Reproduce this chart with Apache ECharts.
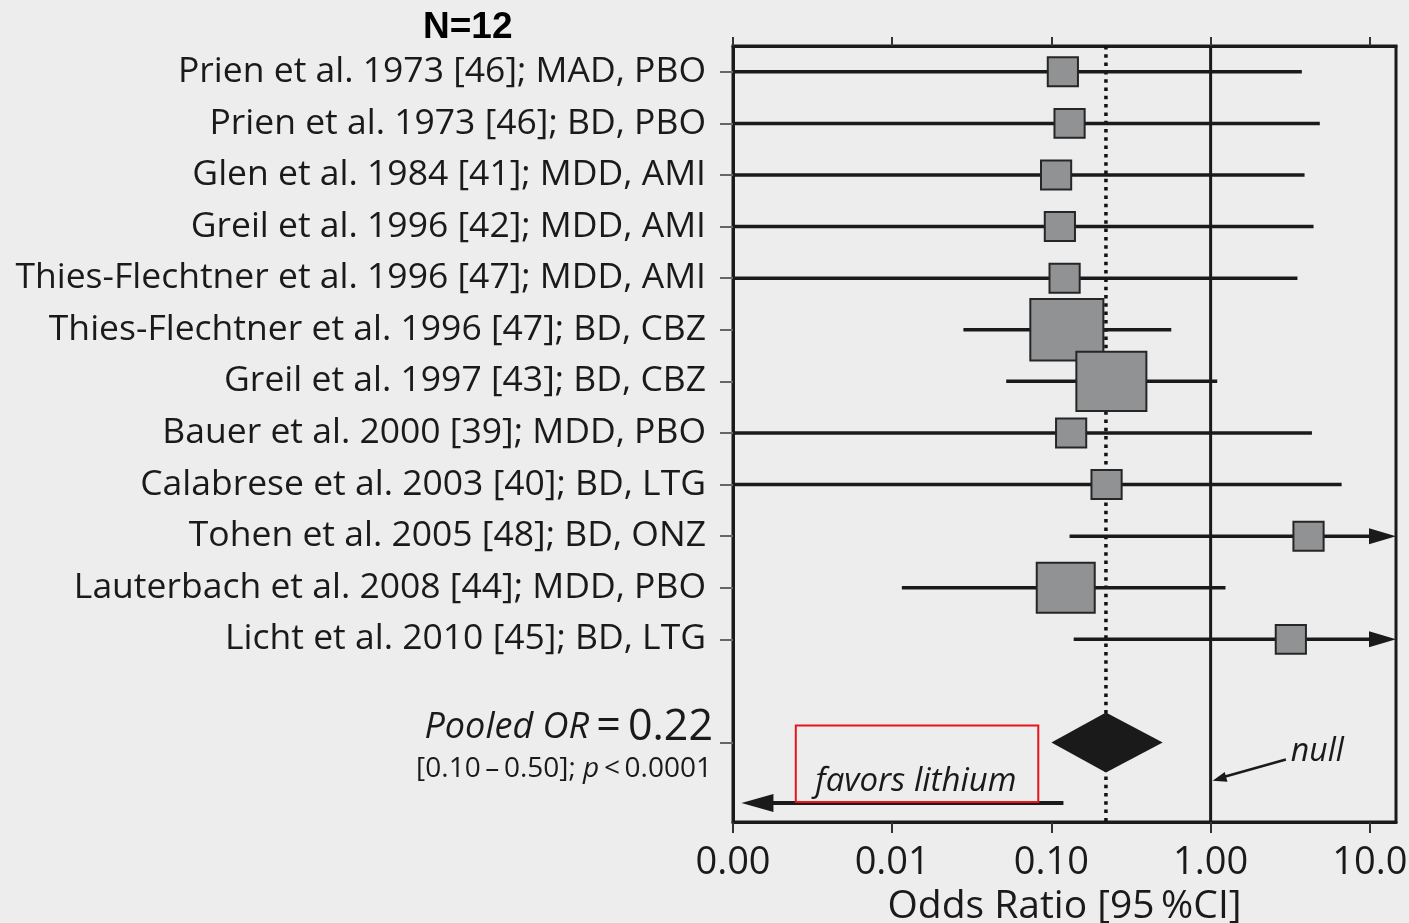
<!DOCTYPE html>
<html>
<head>
<meta charset="utf-8">
<script src="https://cdn.jsdelivr.net/npm/echarts@6/dist/echarts.min.js"></script>
<style>
  html, body { margin: 0; padding: 0; background: #ededed; }
  #chart { width: 1409px; height: 923px; }
</style>
</head>
<body>
<div id="chart"></div>
<script>
// Trials included in the meta-analysis (one row each, top to bottom)
const studies = [
  'Prien et al. 1973 [46]; MAD, PBO',
  'Prien et al. 1973 [46]; BD, PBO',
  'Glen et al. 1984 [41]; MDD, AMI',
  'Greil et al. 1996 [42]; MDD, AMI',
  'Thies-Flechtner et al. 1996 [47]; MDD, AMI',
  'Thies-Flechtner et al. 1996 [47]; BD, CBZ',
  'Greil et al. 1997 [43]; BD, CBZ',
  'Bauer et al. 2000 [39]; MDD, PBO',
  'Calabrese et al. 2003 [40]; BD, LTG',
  'Tohen et al. 2005 [48]; BD, ONZ',
  'Lauterbach et al. 2008 [44]; MDD, PBO',
  'Licht et al. 2010 [45]; BD, LTG'
];
// Odds ratios with 95% confidence limits
const oddsRatio = [0.118, 0.130, 0.107, 0.113, 0.121, 0.125, 0.238, 0.133, 0.222, 4.12, 0.123, 3.19];
const ciLower   = [0.0005, 0.0005, 0.0005, 0.0005, 0.0005, 0.028, 0.052, 0.0005, 0.0005, 0.130, 0.0115, 0.138];
const ciUpper   = [3.74, 4.85, 3.89, 4.43, 3.51, 0.566, 1.10, 4.33, 6.65, 30, 1.24, 30];
// Relative study weights (%)
const weights   = [4.2, 4.2, 4.2, 4.2, 4.2, 24.6, 22.6, 4.2, 4.2, 4.2, 15.5, 4.2];

// Pooled estimate
const pooledOR = 0.22;
const pooledLower = 0.10;
const pooledUpper = 0.50;
const pooledP = '0.0001';
const studyCount = 12;

// Axis ticks
const xTickValues = [0.001, 0.01, 0.1, 1, 10];
const xTickLabels = ['0.00', '0.01', '0.10', '1.00', '10.0'];

const FONT = "'Open Sans', 'Noto Sans', sans-serif";
const INK = '#1a1a1a';
const X_MIN = 0.001;
const X_MAX = 14.6;
const POOLED_ROW = 14;

const studyRows = studies.map((_, i) => i + 1);
const forestData = studies.map((_, i) => [oddsRatio[i], i + 1, ciLower[i], ciUpper[i], weights[i]]);

function clampX(x, cs) {
  return Math.min(Math.max(x, cs.x), cs.x + cs.width);
}

function xLabel(v) {
  for (let i = 0; i < xTickValues.length; i++) {
    if (Math.abs(Math.log10(xTickValues[i]) - Math.log10(v)) < 1e-6) return xTickLabels[i];
  }
  return '';
}

// One study: CI whisker (clipped to the frame, arrow when open-ended) and weighted box
function renderStudy(params, api) {
  const or = api.value(0), row = api.value(1), lo = api.value(2), hi = api.value(3), w = api.value(4);
  const cs = params.coordSys;
  const right = cs.x + cs.width;
  const c = api.coord([or, row]);
  const xLo = clampX(api.coord([lo, row])[0], cs);
  const rawHi = api.coord([hi, row])[0];
  const open = rawHi > right;
  const xHi = clampX(rawHi, cs);
  const bw = 14.73 * Math.sqrt(w);
  const bh = 6 + 0.76 * bw;
  const children = [{
    type: 'line',
    shape: { x1: xLo, y1: c[1], x2: open ? xHi - 20 : xHi, y2: c[1] },
    style: { stroke: INK, lineWidth: 3.5 }
  }];
  if (open) {
    children.push({
      type: 'polygon',
      shape: { points: [[xHi, c[1]], [xHi - 27, c[1] - 8], [xHi - 27, c[1] + 8]] },
      style: { fill: INK }
    });
  }
  children.push({
    type: 'rect',
    shape: { x: c[0] - bw / 2, y: c[1] - bh / 2, width: bw, height: bh },
    style: { fill: '#919293', stroke: '#262626', lineWidth: 2 }
  });
  return { type: 'group', children };
}

// Vertical reference lines: pooled estimate (dotted) and null effect (solid)
function renderRefLine(params, api) {
  const cs = params.coordSys;
  const x = api.coord([api.value(0), 1])[0];
  const dotted = api.value(1) === 1;
  return {
    type: 'line',
    shape: { x1: x, y1: cs.y, x2: x, y2: cs.y + cs.height },
    style: dotted
      ? { stroke: '#111', lineWidth: 3.5, lineDash: [3.5, 4.8] }
      : { stroke: INK, lineWidth: 3 }
  };
}

// Pooled diamond
function renderPooled(params, api) {
  const or = api.value(0), row = api.value(1), lo = api.value(2), hi = api.value(3);
  const c = api.coord([or, row]);
  const l = api.coord([lo, row])[0];
  const r = api.coord([hi, row])[0];
  const h = 30;
  return {
    type: 'polygon',
    shape: { points: [[l, c[1]], [c[0], c[1] - h], [r, c[1]], [c[0], c[1] + h]] },
    style: { fill: '#1a1a1a' }
  };
}

function arrowHead(tip, from, len, half) {
  const dx = tip[0] - from[0], dy = tip[1] - from[1];
  const d = Math.hypot(dx, dy);
  const ux = dx / d, uy = dy / d;
  const bx = tip[0] - ux * len, by = tip[1] - uy * len;
  return [tip, [bx - uy * half, by + ux * half], [bx + uy * half, by - ux * half]];
}

// Annotations: pooled summary text, "favors lithium" and "null" pointers
function renderNotes(params, api) {
  const cs = params.coordSys;
  const pooledY = api.coord([1, POOLED_ROW])[1];
  const children = [];

  children.push({
    type: 'text',
    style: {
      x: cs.x - 20, y: pooledY - 15,
      text: '{i|Pooled OR}{n|\u2009=\u2009' + pooledOR.toFixed(2) + '}',
      align: 'right', verticalAlign: 'middle',
      rich: {
        i: { fontFamily: FONT, fontStyle: 'italic', fontSize: 36, fill: INK },
        n: { fontFamily: FONT, fontSize: 43, fill: INK }
      }
    }
  });
  children.push({
    type: 'text',
    style: {
      x: cs.x - 21, y: pooledY + 26,
      text: '{n|[' + pooledLower.toFixed(2) + '\u2009\u2013\u2009' + pooledUpper.toFixed(2) + ']; }{i|p}{n|\u2009<\u2009' + pooledP + '}',
      align: 'right', verticalAlign: 'middle',
      rich: {
        i: { fontFamily: FONT, fontStyle: 'italic', fontSize: 28, fill: INK },
        n: { fontFamily: FONT, fontSize: 28, fill: INK }
      }
    }
  });

  // favors lithium
  const fa = api.coord([0.119, 15.17]);
  const fb = api.coord([0.00113, 15.17]);
  children.push({
    type: 'line',
    shape: { x1: fa[0], y1: fa[1], x2: fb[0] + 25, y2: fb[1] },
    style: { stroke: INK, lineWidth: 4 }
  });
  children.push({
    type: 'polygon',
    shape: { points: arrowHead(fb, fa, 32, 9) },
    style: { fill: INK }
  });
  const ft = api.coord([0.0141, 14.76]);
  children.push({
    type: 'text',
    style: {
      x: ft[0], y: ft[1], text: 'favors lithium',
      align: 'center', verticalAlign: 'middle',
      fontFamily: FONT, fontStyle: 'italic', fontSize: 33, fill: INK
    }
  });
  const r0 = api.coord([0.00248, 13.67]);
  const r1 = api.coord([0.0827, 15.15]);
  children.push({
    type: 'rect',
    shape: { x: r0[0], y: r0[1], width: r1[0] - r0[0], height: r1[1] - r0[1] },
    style: { fill: 'none', stroke: '#e8141b', lineWidth: 2 }
  });

  // null pointer
  const na = api.coord([2.97, 14.33]);
  const nb = api.coord([1, 14.74]);
  const nbTip = [nb[0] + 2, nb[1]];
  children.push({
    type: 'line',
    shape: { x1: na[0], y1: na[1], x2: nbTip[0] + 10, y2: nbTip[1] - 3.5 },
    style: { stroke: INK, lineWidth: 2.5 }
  });
  children.push({
    type: 'polygon',
    shape: { points: arrowHead(nbTip, na, 14, 5) },
    style: { fill: INK }
  });
  const nt = api.coord([3.19, 14.18]);
  children.push({
    type: 'text',
    style: {
      x: nt[0], y: nt[1], text: 'null',
      align: 'left', verticalAlign: 'middle',
      fontFamily: FONT, fontStyle: 'italic', fontSize: 32, fill: INK
    }
  });
  return { type: 'group', children };
}

const xAxisBase = {
  type: 'log',
  logBase: 10,
  min: X_MIN,
  max: X_MAX,
  splitLine: { show: false }
};

const chart = echarts.init(document.getElementById('chart'));
chart.setOption({
  backgroundColor: '#ededed',
  animation: false,
  title: {
    text: 'N=' + studyCount,
    left: 423,
    top: 9,
    padding: 0,
    textStyle: { fontFamily: "'Liberation Sans', Arial, sans-serif", fontWeight: 'bold', fontSize: 37, color: '#000' }
  },
  grid: {
    left: 733, right: 13, top: 46, bottom: 101,
    containLabel: false,
    outerBoundsMode: 'none',
    show: true, borderColor: INK, borderWidth: 3, backgroundColor: 'transparent'
  },
  xAxis: [
    Object.assign({}, xAxisBase, {
      position: 'bottom',
      axisLine: { show: true, lineStyle: { color: INK, width: 3 } },
      axisTick: { show: true, customValues: xTickValues, length: 11, lineStyle: { color: '#333', width: 2 } },
      axisLabel: {
        customValues: xTickValues,
        formatter: xLabel,
        margin: 22,
        fontFamily: FONT, fontSize: 38, color: INK
      },
      name: 'Odds Ratio [95\u2009%CI]',
      nameLocation: 'middle',
      nameGap: 64,
      nameTextStyle: { fontFamily: FONT, fontSize: 39, color: INK }
    }),
    Object.assign({}, xAxisBase, {
      position: 'top',
      axisLine: { show: true, lineStyle: { color: INK, width: 3 } },
      axisTick: { show: true, customValues: xTickValues, length: 9, lineStyle: { color: '#333', width: 2 } },
      axisLabel: { show: false }
    })
  ],
  yAxis: {
    type: 'value',
    inverse: true,
    min: 0.5,
    max: 15.54,
    splitLine: { show: false },
    axisLine: { show: true, lineStyle: { color: INK, width: 3 } },
    axisTick: { show: true, customValues: studyRows.concat([POOLED_ROW]), length: 13, lineStyle: { color: '#666', width: 2 } },
    axisLabel: {
      customValues: studyRows,
      formatter: v => studies[Math.round(v) - 1] || '',
      margin: 27,
      fontFamily: FONT, fontSize: 35.5, color: INK
    }
  },
  series: [
    {
      type: 'custom',
      name: 'reference',
      xAxisIndex: 0, yAxisIndex: 0,
      z: 1,
      silent: true,
      data: [[pooledOR, 1], [1, 0]],
      renderItem: renderRefLine
    },
    {
      type: 'custom',
      name: 'studies',
      xAxisIndex: 0, yAxisIndex: 0,
      z: 2,
      encode: { x: 0, y: 1 },
      data: forestData,
      renderItem: renderStudy
    },
    {
      type: 'custom',
      name: 'pooled',
      xAxisIndex: 0, yAxisIndex: 0,
      z: 3,
      encode: { x: 0, y: 1 },
      data: [[pooledOR, POOLED_ROW, pooledLower, pooledUpper]],
      renderItem: renderPooled
    },
    {
      type: 'custom',
      name: 'notes',
      xAxisIndex: 0, yAxisIndex: 0,
      z: 4,
      silent: true,
      data: [[1, 1]],
      renderItem: renderNotes
    }
  ]
});
</script>
</body>
</html>
